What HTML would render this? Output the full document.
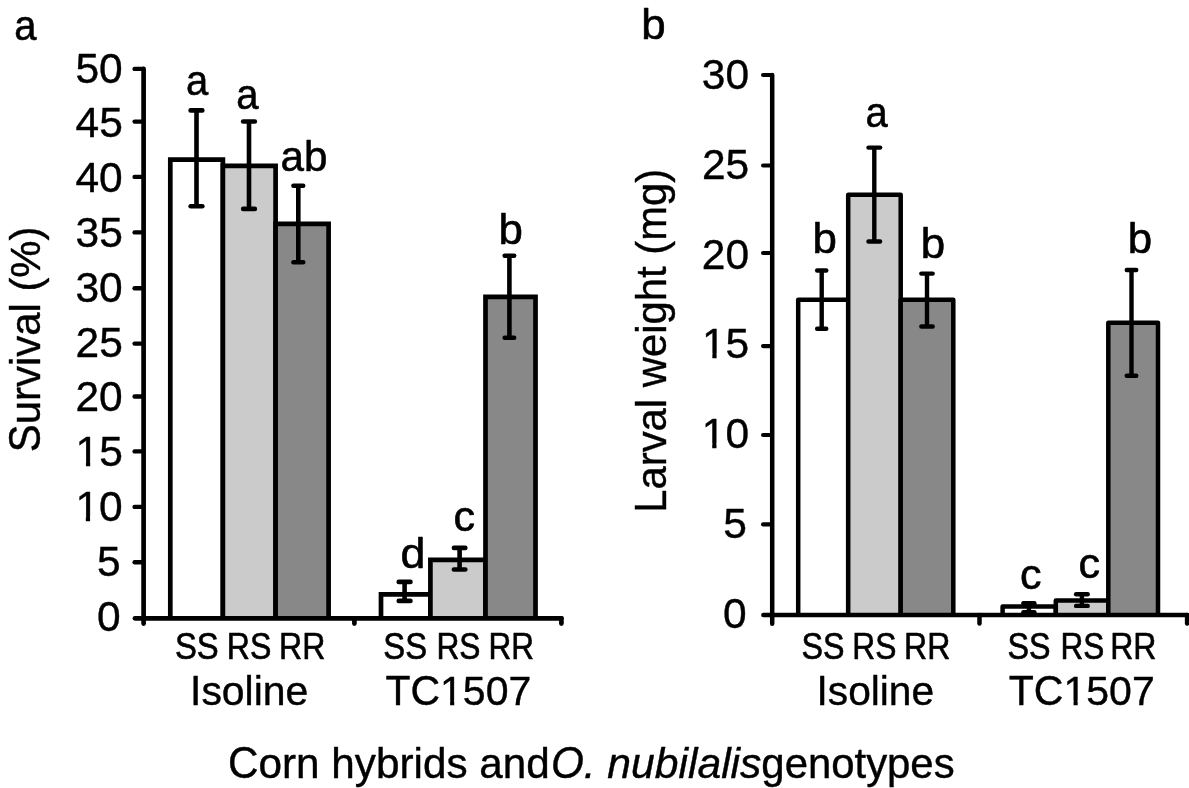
<!DOCTYPE html>
<html><head><meta charset="utf-8"><title>Figure</title>
<style>
html,body{margin:0;padding:0;background:#fff;}
svg{display:block;will-change:transform;}
text{font-family:"Liberation Sans",sans-serif;fill:#000;stroke:#000;stroke-linejoin:round;font-kerning:none;white-space:pre;}
</style></head><body>
<svg width="1189" height="788" viewBox="0 0 1189 788">
<rect width="1189" height="788" fill="#fff"/>
<rect x="170.30" y="159.60" width="52.60" height="458.70" fill="#ffffff"/>
<path d="M170.30,618.30 L170.30,159.60 L222.90,159.60 L222.90,618.30" fill="none" stroke="#000" stroke-width="4.7" stroke-linejoin="miter"/>
<rect x="222.90" y="165.80" width="52.70" height="452.50" fill="#cbcbcb"/>
<path d="M222.90,618.30 L222.90,165.80 L275.60,165.80 L275.60,618.30" fill="none" stroke="#000" stroke-width="4.7" stroke-linejoin="miter"/>
<rect x="275.60" y="223.80" width="53.00" height="394.50" fill="#888888"/>
<path d="M275.60,618.30 L275.60,223.80 L328.60,223.80 L328.60,618.30" fill="none" stroke="#000" stroke-width="4.7" stroke-linejoin="miter"/>
<rect x="381.00" y="594.40" width="49.40" height="23.90" fill="#ffffff"/>
<path d="M381.00,618.30 L381.00,594.40 L430.40,594.40 L430.40,618.30" fill="none" stroke="#000" stroke-width="4.7" stroke-linejoin="miter"/>
<rect x="430.40" y="559.90" width="55.10" height="58.40" fill="#cbcbcb"/>
<path d="M430.40,618.30 L430.40,559.90 L485.50,559.90 L485.50,618.30" fill="none" stroke="#000" stroke-width="4.7" stroke-linejoin="miter"/>
<rect x="485.50" y="296.80" width="50.00" height="321.50" fill="#888888"/>
<path d="M485.50,618.30 L485.50,296.80 L535.50,296.80 L535.50,618.30" fill="none" stroke="#000" stroke-width="4.7" stroke-linejoin="miter"/>
<line x1="196.50" y1="110.40" x2="196.50" y2="206.30" stroke="#000" stroke-width="4.6000000000000005" stroke-linecap="butt"/>
<line x1="190.65" y1="110.40" x2="202.35" y2="110.40" stroke="#000" stroke-width="4.6000000000000005" stroke-linecap="round"/>
<line x1="190.65" y1="206.30" x2="202.35" y2="206.30" stroke="#000" stroke-width="4.6000000000000005" stroke-linecap="round"/>
<line x1="249.00" y1="121.50" x2="249.00" y2="208.90" stroke="#000" stroke-width="4.6000000000000005" stroke-linecap="butt"/>
<line x1="243.15" y1="121.50" x2="254.85" y2="121.50" stroke="#000" stroke-width="4.6000000000000005" stroke-linecap="round"/>
<line x1="243.15" y1="208.90" x2="254.85" y2="208.90" stroke="#000" stroke-width="4.6000000000000005" stroke-linecap="round"/>
<line x1="298.30" y1="185.70" x2="298.30" y2="262.20" stroke="#000" stroke-width="4.6000000000000005" stroke-linecap="butt"/>
<line x1="293.45" y1="185.70" x2="303.15" y2="185.70" stroke="#000" stroke-width="4.6000000000000005" stroke-linecap="round"/>
<line x1="293.45" y1="262.20" x2="303.15" y2="262.20" stroke="#000" stroke-width="4.6000000000000005" stroke-linecap="round"/>
<line x1="404.60" y1="581.90" x2="404.60" y2="600.90" stroke="#000" stroke-width="4.6000000000000005" stroke-linecap="butt"/>
<line x1="398.75" y1="581.90" x2="410.45" y2="581.90" stroke="#000" stroke-width="4.6000000000000005" stroke-linecap="round"/>
<line x1="398.75" y1="600.90" x2="410.45" y2="600.90" stroke="#000" stroke-width="4.6000000000000005" stroke-linecap="round"/>
<line x1="459.60" y1="547.90" x2="459.60" y2="569.50" stroke="#000" stroke-width="4.6000000000000005" stroke-linecap="butt"/>
<line x1="453.90" y1="547.90" x2="465.30" y2="547.90" stroke="#000" stroke-width="4.6000000000000005" stroke-linecap="round"/>
<line x1="453.90" y1="569.50" x2="465.30" y2="569.50" stroke="#000" stroke-width="4.6000000000000005" stroke-linecap="round"/>
<line x1="509.40" y1="255.70" x2="509.40" y2="337.70" stroke="#000" stroke-width="4.6000000000000005" stroke-linecap="butt"/>
<line x1="504.70" y1="255.70" x2="514.10" y2="255.70" stroke="#000" stroke-width="4.6000000000000005" stroke-linecap="round"/>
<line x1="504.70" y1="337.70" x2="514.10" y2="337.70" stroke="#000" stroke-width="4.6000000000000005" stroke-linecap="round"/>
<line x1="143.60" y1="68.90" x2="143.60" y2="623.55" stroke="#000" stroke-width="4.7" stroke-linecap="round"/>
<line x1="134.95" y1="618.30" x2="561.40" y2="618.30" stroke="#000" stroke-width="4.7" stroke-linecap="round"/>
<path d="M143.60,66.70 L134.60,66.70 A2.20,2.20 0 0 0 134.60,71.10 L143.60,71.10 Z" fill="#000"/>
<path d="M143.60,119.40 L134.60,119.40 A2.20,2.20 0 0 0 134.60,123.80 L143.60,123.80 Z" fill="#000"/>
<path d="M143.60,174.70 L134.60,174.70 A2.20,2.20 0 0 0 134.60,179.10 L143.60,179.10 Z" fill="#000"/>
<path d="M143.60,230.20 L134.60,230.20 A2.20,2.20 0 0 0 134.60,234.60 L143.60,234.60 Z" fill="#000"/>
<path d="M143.60,286.10 L134.60,286.10 A2.20,2.20 0 0 0 134.60,290.50 L143.60,290.50 Z" fill="#000"/>
<path d="M143.60,341.40 L134.60,341.40 A2.20,2.20 0 0 0 134.60,345.80 L143.60,345.80 Z" fill="#000"/>
<path d="M143.60,394.30 L134.60,394.30 A2.20,2.20 0 0 0 134.60,398.70 L143.60,398.70 Z" fill="#000"/>
<path d="M143.60,449.20 L134.60,449.20 A2.20,2.20 0 0 0 134.60,453.60 L143.60,453.60 Z" fill="#000"/>
<path d="M143.60,504.70 L134.60,504.70 A2.20,2.20 0 0 0 134.60,509.10 L143.60,509.10 Z" fill="#000"/>
<path d="M143.60,560.10 L134.60,560.10 A2.20,2.20 0 0 0 134.60,564.50 L143.60,564.50 Z" fill="#000"/>
<line x1="354.40" y1="618.30" x2="354.40" y2="623.55" stroke="#000" stroke-width="4.7" stroke-linecap="round"/>
<line x1="561.40" y1="618.30" x2="561.40" y2="623.55" stroke="#000" stroke-width="4.7" stroke-linecap="round"/>
<text transform="translate(75.39,82.50) scale(1.0000,1.0200)" font-size="42.5" stroke-width="0.4">50</text>
<text transform="translate(75.51,137.32) scale(1.0000,1.0200)" font-size="42.5" stroke-width="0.4">45</text>
<text transform="translate(75.39,192.14) scale(1.0000,1.0200)" font-size="42.5" stroke-width="0.4">40</text>
<text transform="translate(75.51,246.96) scale(1.0000,1.0200)" font-size="42.5" stroke-width="0.4">35</text>
<text transform="translate(75.39,301.78) scale(1.0000,1.0200)" font-size="42.5" stroke-width="0.4">30</text>
<text transform="translate(75.51,356.60) scale(1.0000,1.0200)" font-size="42.5" stroke-width="0.4">25</text>
<text transform="translate(75.39,411.42) scale(1.0000,1.0200)" font-size="42.5" stroke-width="0.4">20</text>
<text transform="translate(75.51,466.24) scale(1.0000,1.0200)" font-size="42.5" stroke-width="0.4">15</text>
<rect x="77.55" y="461.20" width="8.40" height="6.44" fill="#fff"/>
<rect x="90.21" y="461.20" width="8.07" height="6.44" fill="#fff"/>
<text transform="translate(75.39,521.06) scale(1.0000,1.0200)" font-size="42.5" stroke-width="0.4">10</text>
<rect x="77.42" y="516.02" width="8.40" height="6.44" fill="#fff"/>
<rect x="90.08" y="516.02" width="8.07" height="6.44" fill="#fff"/>
<text transform="translate(97.05,575.88) scale(1.0000,1.0200)" font-size="42.5" stroke-width="0.4">5</text>
<text transform="translate(96.92,630.70) scale(1.0000,1.0200)" font-size="42.5" stroke-width="0.4">0</text>
<text transform="translate(39.60,452.20) rotate(-90) scale(0.9975,1.0450)" font-size="42" stroke-width="0.4">S</text>
<text transform="translate(39.60,424.26) rotate(-90) scale(0.9975,1.0000)" font-size="42" stroke-width="0.4">urvival (%)</text>
<text transform="translate(14.33,39.90) scale(0.9300,1.0000)" font-size="43" stroke-width="0.6">a</text>
<text transform="translate(185.98,94.50) scale(0.9300,1.0000)" font-size="43" stroke-width="0.6">a</text>
<text transform="translate(236.33,108.80) scale(0.9300,1.0000)" font-size="43" stroke-width="0.6">a</text>
<text transform="translate(280.45,171.10) scale(0.9800,1.0000)" font-size="43" stroke-width="0.6">ab</text>
<text transform="translate(498.56,244.40) scale(1.0200,1.0000)" font-size="43" stroke-width="0.6">b</text>
<text transform="translate(400.57,568.10) scale(1.0400,1.0000)" font-size="43" stroke-width="0.6">d</text>
<text transform="translate(453.60,531.10) scale(1.0000,1.0000)" font-size="43" stroke-width="0.6">c</text>
<text transform="translate(174.91,659.00) scale(0.9381,1.0450)" font-size="35" stroke-width="0.6">SS</text>
<text transform="translate(226.77,659.00) scale(0.9175,1.0450)" font-size="35" stroke-width="0.6">RS</text>
<text transform="translate(279.07,659.00) scale(0.9163,1.0450)" font-size="35" stroke-width="0.6">RR</text>
<text transform="translate(383.31,659.00) scale(0.9381,1.0450)" font-size="35" stroke-width="0.6">SS</text>
<text transform="translate(436.40,659.00) scale(0.9061,1.0450)" font-size="35" stroke-width="0.6">RS</text>
<text transform="translate(488.61,659.00) scale(0.9011,1.0450)" font-size="35" stroke-width="0.6">RR</text>
<text transform="translate(190.02,705.30) scale(0.9981,1.0450)" font-size="41" stroke-width="0.4">I</text>
<text transform="translate(201.39,705.30) scale(0.9981,1.0000)" font-size="41" stroke-width="0.4">soline</text>
<text transform="translate(385.38,705.30) scale(1.0001,1.0450)" font-size="41" stroke-width="0.4">TC</text>
<text transform="translate(440.04,705.30) scale(1.0001,1.0000)" font-size="41" stroke-width="0.4">1507</text>
<rect x="441.96" y="700.44" width="8.14" height="6.26" fill="#fff"/>
<rect x="454.23" y="700.44" width="7.82" height="6.26" fill="#fff"/>
<rect x="798.20" y="299.70" width="50.00" height="315.20" fill="#ffffff"/>
<path d="M798.20,614.90 L798.20,299.70 L848.20,299.70 L848.20,614.90" fill="none" stroke="#000" stroke-width="4.5" stroke-linejoin="round"/>
<rect x="848.20" y="194.80" width="52.50" height="420.10" fill="#cbcbcb"/>
<path d="M848.20,614.90 L848.20,194.80 L900.70,194.80 L900.70,614.90" fill="none" stroke="#000" stroke-width="4.5" stroke-linejoin="round"/>
<rect x="900.70" y="299.70" width="52.60" height="315.20" fill="#888888"/>
<path d="M900.70,614.90 L900.70,299.70 L953.30,299.70 L953.30,614.90" fill="none" stroke="#000" stroke-width="4.5" stroke-linejoin="round"/>
<rect x="1002.60" y="606.50" width="53.20" height="8.40" fill="#ffffff"/>
<path d="M1002.60,614.90 L1002.60,606.50 L1055.80,606.50 L1055.80,614.90" fill="none" stroke="#000" stroke-width="4.5" stroke-linejoin="round"/>
<rect x="1055.80" y="600.40" width="52.50" height="14.50" fill="#cbcbcb"/>
<path d="M1055.80,614.90 L1055.80,600.40 L1108.30,600.40 L1108.30,614.90" fill="none" stroke="#000" stroke-width="4.5" stroke-linejoin="round"/>
<rect x="1108.30" y="322.80" width="49.70" height="292.10" fill="#888888"/>
<path d="M1108.30,614.90 L1108.30,322.80 L1158.00,322.80 L1158.00,614.90" fill="none" stroke="#000" stroke-width="4.5" stroke-linejoin="round"/>
<line x1="821.70" y1="270.50" x2="821.70" y2="328.70" stroke="#000" stroke-width="4.4" stroke-linecap="butt"/>
<line x1="817.15" y1="270.50" x2="826.25" y2="270.50" stroke="#000" stroke-width="4.4" stroke-linecap="round"/>
<line x1="817.15" y1="328.70" x2="826.25" y2="328.70" stroke="#000" stroke-width="4.4" stroke-linecap="round"/>
<line x1="874.30" y1="147.60" x2="874.30" y2="241.50" stroke="#000" stroke-width="4.4" stroke-linecap="butt"/>
<line x1="868.50" y1="147.60" x2="880.10" y2="147.60" stroke="#000" stroke-width="4.4" stroke-linecap="round"/>
<line x1="868.50" y1="241.50" x2="880.10" y2="241.50" stroke="#000" stroke-width="4.4" stroke-linecap="round"/>
<line x1="927.00" y1="273.60" x2="927.00" y2="326.50" stroke="#000" stroke-width="4.4" stroke-linecap="butt"/>
<line x1="921.35" y1="273.60" x2="932.65" y2="273.60" stroke="#000" stroke-width="4.4" stroke-linecap="round"/>
<line x1="921.35" y1="326.50" x2="932.65" y2="326.50" stroke="#000" stroke-width="4.4" stroke-linecap="round"/>
<line x1="1028.90" y1="603.30" x2="1028.90" y2="612.20" stroke="#000" stroke-width="4.4" stroke-linecap="butt"/>
<line x1="1023.40" y1="603.30" x2="1034.40" y2="603.30" stroke="#000" stroke-width="4.4" stroke-linecap="round"/>
<line x1="1023.40" y1="612.20" x2="1034.40" y2="612.20" stroke="#000" stroke-width="4.4" stroke-linecap="round"/>
<line x1="1081.90" y1="594.30" x2="1081.90" y2="605.90" stroke="#000" stroke-width="4.4" stroke-linecap="butt"/>
<line x1="1076.10" y1="594.30" x2="1087.70" y2="594.30" stroke="#000" stroke-width="4.4" stroke-linecap="round"/>
<line x1="1076.10" y1="605.90" x2="1087.70" y2="605.90" stroke="#000" stroke-width="4.4" stroke-linecap="round"/>
<line x1="1131.50" y1="270.00" x2="1131.50" y2="375.70" stroke="#000" stroke-width="4.4" stroke-linecap="butt"/>
<line x1="1126.75" y1="270.00" x2="1136.25" y2="270.00" stroke="#000" stroke-width="4.4" stroke-linecap="round"/>
<line x1="1126.75" y1="375.70" x2="1136.25" y2="375.70" stroke="#000" stroke-width="4.4" stroke-linecap="round"/>
<line x1="772.20" y1="75.00" x2="772.20" y2="623.65" stroke="#000" stroke-width="4.5" stroke-linecap="round"/>
<line x1="763.35" y1="614.90" x2="1187.10" y2="614.90" stroke="#000" stroke-width="4.5" stroke-linecap="round"/>
<path d="M772.20,72.95 L763.05,72.95 A2.05,2.05 0 0 0 763.05,77.05 L772.20,77.05 Z" fill="#000"/>
<path d="M772.20,163.45 L763.05,163.45 A2.05,2.05 0 0 0 763.05,167.55 L772.20,167.55 Z" fill="#000"/>
<path d="M772.20,250.95 L763.05,250.95 A2.05,2.05 0 0 0 763.05,255.05 L772.20,255.05 Z" fill="#000"/>
<path d="M772.20,344.05 L763.05,344.05 A2.05,2.05 0 0 0 763.05,348.15 L772.20,348.15 Z" fill="#000"/>
<path d="M772.20,432.95 L763.05,432.95 A2.05,2.05 0 0 0 763.05,437.05 L772.20,437.05 Z" fill="#000"/>
<path d="M772.20,522.35 L763.05,522.35 A2.05,2.05 0 0 0 763.05,526.45 L772.20,526.45 Z" fill="#000"/>
<line x1="979.50" y1="614.90" x2="979.50" y2="623.55" stroke="#000" stroke-width="4.5" stroke-linecap="round"/>
<line x1="1187.10" y1="614.90" x2="1187.10" y2="623.55" stroke="#000" stroke-width="4.5" stroke-linecap="round"/>
<text transform="translate(701.79,89.00) scale(1.0000,1.0200)" font-size="42.5" stroke-width="0.4">30</text>
<text transform="translate(701.91,178.83) scale(1.0000,1.0200)" font-size="42.5" stroke-width="0.4">25</text>
<text transform="translate(701.79,268.66) scale(1.0000,1.0200)" font-size="42.5" stroke-width="0.4">20</text>
<text transform="translate(701.91,358.49) scale(1.0000,1.0200)" font-size="42.5" stroke-width="0.4">15</text>
<rect x="703.95" y="353.45" width="8.40" height="6.44" fill="#fff"/>
<rect x="716.61" y="353.45" width="8.07" height="6.44" fill="#fff"/>
<text transform="translate(701.79,448.32) scale(1.0000,1.0200)" font-size="42.5" stroke-width="0.4">10</text>
<rect x="703.82" y="443.28" width="8.40" height="6.44" fill="#fff"/>
<rect x="716.48" y="443.28" width="8.07" height="6.44" fill="#fff"/>
<text transform="translate(723.25,538.15) scale(1.0000,1.0200)" font-size="42.5" stroke-width="0.4">5</text>
<text transform="translate(723.12,627.98) scale(1.0000,1.0200)" font-size="42.5" stroke-width="0.4">0</text>
<text transform="translate(665.60,512.83) rotate(-90) scale(0.9965,1.0450)" font-size="42" stroke-width="0.4">L</text>
<text transform="translate(665.60,489.56) rotate(-90) scale(0.9965,1.0000)" font-size="42" stroke-width="0.4">arval weight (mg)</text>
<text transform="translate(641.26,39.40) scale(1.0200,1.0000)" font-size="43" stroke-width="0.6">b</text>
<text transform="translate(865.53,127.40) scale(0.9300,1.0000)" font-size="43" stroke-width="0.6">a</text>
<text transform="translate(812.41,253.30) scale(1.0200,1.0000)" font-size="43" stroke-width="0.6">b</text>
<text transform="translate(920.76,258.30) scale(1.0200,1.0000)" font-size="43" stroke-width="0.6">b</text>
<text transform="translate(1127.66,253.30) scale(1.0200,1.0000)" font-size="43" stroke-width="0.6">b</text>
<text transform="translate(1020.05,588.90) scale(1.0000,1.0000)" font-size="43" stroke-width="0.6">c</text>
<text transform="translate(1078.55,577.50) scale(1.0000,1.0000)" font-size="43" stroke-width="0.6">c</text>
<text transform="translate(801.43,659.00) scale(0.9220,1.0450)" font-size="35" stroke-width="0.6">SS</text>
<text transform="translate(852.19,659.00) scale(0.9084,1.0450)" font-size="35" stroke-width="0.6">RS</text>
<text transform="translate(904.07,659.00) scale(0.9163,1.0450)" font-size="35" stroke-width="0.6">RR</text>
<text transform="translate(1007.43,659.00) scale(0.9220,1.0450)" font-size="35" stroke-width="0.6">SS</text>
<text transform="translate(1060.41,659.00) scale(0.9016,1.0450)" font-size="35" stroke-width="0.6">RS</text>
<text transform="translate(1110.17,659.00) scale(0.9163,1.0450)" font-size="35" stroke-width="0.6">RR</text>
<text transform="translate(816.55,705.20) scale(0.9919,1.0450)" font-size="41" stroke-width="0.4">I</text>
<text transform="translate(827.85,705.20) scale(0.9919,1.0000)" font-size="41" stroke-width="0.4">soline</text>
<text transform="translate(1008.78,705.40) scale(1.0008,1.0450)" font-size="41" stroke-width="0.4">TC</text>
<text transform="translate(1063.48,705.40) scale(1.0008,1.0000)" font-size="41" stroke-width="0.4">1507</text>
<rect x="1065.40" y="700.54" width="8.14" height="6.26" fill="#fff"/>
<rect x="1077.67" y="700.54" width="7.82" height="6.26" fill="#fff"/>
<text transform="translate(227.95,778.40) scale(1.0067,1.0450)" font-size="42" stroke-width="0.4">C</text>
<text transform="translate(258.49,778.40) scale(1.0067,1.0000)" font-size="42" stroke-width="0.4">orn hybrids and</text>
<text transform="translate(550.91,778.40) scale(1.0050,1.0450)" font-size="42" font-style="italic" stroke-width="0.4">O</text>
<text transform="translate(583.75,778.40) scale(1.0050,1.0000)" font-size="42" font-style="italic" stroke-width="0.4">.</text>
<text transform="translate(607.19,778.40) scale(1.0166,1.0000)" font-size="42" font-style="italic" stroke-width="0.4">nubilalis</text>
<text transform="translate(761.34,778.40) scale(0.9972,1.0000)" font-size="42" stroke-width="0.4">genotypes</text>
</svg>
</body></html>
